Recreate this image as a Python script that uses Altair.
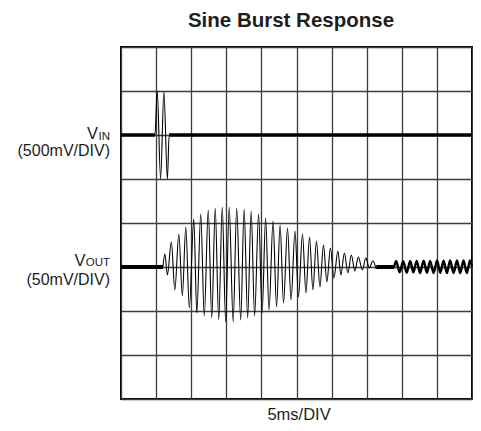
import altair as alt
import pandas as pd

# ---- graticule (5 ms/div horizontally, 8 vertical divisions) ----
grid_t = [0, 5, 10, 15, 20, 25, 30, 35, 40, 45, 50]
grid_div = [-4, -3, -2, -1, 0, 1, 2, 3, 4]

# ---- VIN channel (500 mV/div, trace centred 2 div above centre) ----
vin_scale_mv = 500
vin_offset_div = 2
vin_t = [0.0, 4.83, 5.16, 5.64, 6.11, 6.61, 6.86, 50.0]
vin_mv = [0, 0, 500, -500, 490, -500, 0, 0]
vin_quiet_t = [0.0, 4.83, 6.86, 50.0]
vin_quiet_mv = [0, 0, 0, 0]
vin_quiet_seg = [1, 1, 2, 2]

# ---- VOUT channel (50 mV/div, trace centred 1 div below centre) ----
vout_scale_mv = 50
vout_offset_div = -1
vout_burst_t = [5.97, 6.25, 6.61, 7.17, 7.67, 8.24, 8.74, 9.23, 9.73, 10.37, 10.80,
                11.36, 11.86, 12.43, 12.93, 13.42, 13.92, 14.42, 14.91, 15.41, 15.98,
                16.48, 17.05, 17.54, 18.04, 18.54, 19.03, 19.60, 20.10, 20.60, 21.09,
                21.66, 22.16, 22.66, 23.15, 23.72, 24.22, 24.79, 25.28, 25.85, 26.35,
                26.85, 27.34, 27.84, 28.34, 28.84, 29.33, 29.83, 30.33, 30.89, 31.32,
                31.82, 32.32, 32.81, 33.31, 33.81, 34.38, 34.87, 35.37, 35.87, 36.36]
vout_burst_mv = [0, 14.8, -9.1, 28.4, -26.1, 37.5, -33.0, 45.5, -46.6, 54.5, -52.3,
                 60.2, -55.7, 64.8, -58.0, 67.0, -60.2, 68.2, -62.5, 68.2, -62.5,
                 67.0, -60.2, 65.9, -58.0, 63.6, -55.7, 60.2, -52.3, 55.7, -48.9,
                 52.3, -45.5, 47.7, -40.9, 44.3, -37.5, 40.9, -34.1, 37.5, -29.5,
                 34.1, -26.1, 29.5, -22.7, 25.0, -17.0, 21.6, -12.5, 18.2, -9.1,
                 15.9, -6.8, 13.6, -4.5, 11.4, -3.4, 10.2, -1.1, 6.8, -2.3]
vout_tail_t = [38.92, 39.20, 39.70, 40.20, 40.70, 41.19, 41.65, 42.12, 42.61, 43.11,
               43.58, 44.03, 44.53, 45.03, 45.48, 45.95, 46.42, 46.88, 47.37, 47.87,
               48.32, 48.79, 49.26, 49.72, 50.0]
vout_tail_mv = [0, 6.8, -6.0, 6.5, -6.5, 6.8, -6.2, 7.0, -6.8, 7.2,
                -6.5, 7.0, -6.8, 7.4, -6.6, 7.2, -7.0, 7.4, -6.8, 7.5,
                -7.0, 7.4, -7.0, 7.5, 0]
vout_quiet_t = [0.0, 5.97, 36.36, 38.92]
vout_quiet_mv = [0, 0, 0, 0]
vout_quiet_seg = [1, 1, 2, 2]


def frame(t, mv, scale_mv, offset_div, seg=None):
    df = pd.DataFrame({"t": t, "mv": mv})
    df["div"] = offset_div + df["mv"] / scale_mv
    df["seg"] = seg if seg is not None else 1
    df["order"] = range(len(df))
    return df


axis_common = dict(grid=True, labels=False, ticks=False, domain=False, title=None,
                   gridColor="#3c3c3c", gridWidth=1.3, gridOpacity=1)
x_enc = alt.X("t:Q", scale=alt.Scale(domain=[0, 50], nice=False, zero=False),
              axis=alt.Axis(values=grid_t, **axis_common))
y_enc = alt.Y("div:Q", scale=alt.Scale(domain=[-4, 4], nice=False, zero=False),
              axis=alt.Axis(values=grid_div, **axis_common))


def trace(df, width, interp="linear"):
    return alt.Chart(df).mark_line(color="black", strokeWidth=width, interpolate=interp,
                                   strokeJoin="round").encode(
        x=x_enc, y=y_enc, detail="seg:N", order="order:Q")


vin_line = trace(frame(vin_t, vin_mv, vin_scale_mv, vin_offset_div), 1.1, "monotone")
vin_quiet = trace(frame(vin_quiet_t, vin_quiet_mv, vin_scale_mv, vin_offset_div,
                        vin_quiet_seg), 3.5)
vout_burst = trace(frame(vout_burst_t, vout_burst_mv, vout_scale_mv, vout_offset_div),
                   1.1, "monotone")
vout_tail = trace(frame(vout_tail_t, vout_tail_mv, vout_scale_mv, vout_offset_div),
                  2.4, "monotone")
vout_quiet = trace(frame(vout_quiet_t, vout_quiet_mv, vout_scale_mv, vout_offset_div,
                         vout_quiet_seg), 4)

one = pd.DataFrame({"a": [0]})
FONT = "Liberation Sans"
TXT = "#1e1e1e"


def label(text, x, y, size, align="right", weight="normal"):
    return alt.Chart(one).mark_text(text=text, font=FONT, fontSize=size, fontWeight=weight,
                                    align=align, baseline="alphabetic", color=TXT).encode(
        x=alt.value(x), y=alt.value(y))


texts = [
    label("Sine Burst Response", 170, -20, 20.5, "center", "bold"),
    label("V", -23, 92, 16.5),
    label("IN", -11, 92.5, 11.5),
    label("(500mV/DIV)", -11, 109, 16),
    label("V", -35.5, 218.5, 16.5),
    label("OUT", -11, 219, 11.5),
    label("(50mV/DIV)", -11, 237.5, 16),
    label("5ms/DIV", 178, 373, 16.5, "center"),
]

chart = alt.layer(vin_quiet, vin_line, vout_quiet, vout_burst, vout_tail, *texts).properties(
    width=351, height=352,
    padding={"left": 113, "top": 39, "right": 1, "bottom": 24},
    autosize=alt.AutoSizeParams(type="none"),
    background="white",
).configure_view(stroke="black", strokeWidth=2)

chart.save("out.html", embed_options={"renderer": "svg", "actions": False})
